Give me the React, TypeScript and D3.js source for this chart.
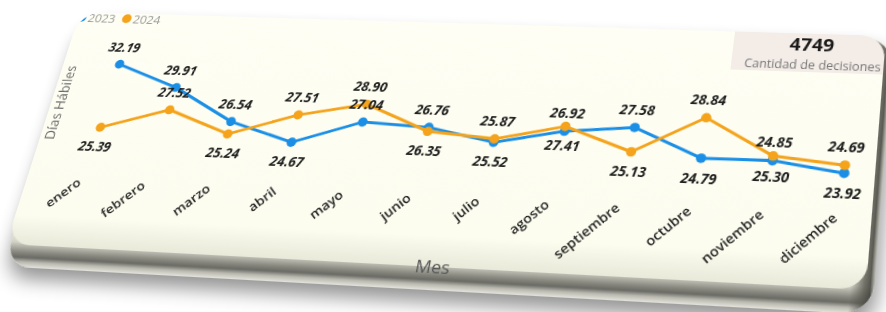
import { useEffect, useRef } from 'react';
import * as d3 from 'd3';

const MONTHS = [
  'enero',
  'febrero',
  'marzo',
  'abril',
  'mayo',
  'junio',
  'julio',
  'agosto',
  'septiembre',
  'octubre',
  'noviembre',
  'diciembre',
];

const DIAS_2023 = [32.19, 29.91, 26.54, 24.67, 27.04, 26.76, 25.52, 26.92, 27.58, 24.79, 24.85, 23.92];
const DIAS_2024 = [25.39, 27.52, 25.24, 27.51, 28.9, 26.35, 25.87, 27.41, 25.13, 28.84, 25.3, 24.69];

// where Power BI put each data label (u = above the point, d = below)
const POS_2023 = ['u', 'u', 'u', 'd', 'u', 'u', 'd', 'u', 'u', 'd', 'u', 'd'];
const POS_2024 = ['d', 'u', 'd', 'u', 'u', 'd', 'u', 'd', 'd', 'u', 'd', 'u'];

const TOTAL_DECISIONES = 4749;

const BLUE = '#1b8fe6';
const ORANGE = '#f4a31b';

// flat card size, then warped onto the tilted quad seen in the screenshot
const W = 820;
const H = 248;
const QUAD: [number, number][] = [
  [80, 12], // top left
  [886, 36], // top right
  [866, 290], // bottom right
  [6, 244], // bottom left
];

function quadMatrix(q: [number, number][]) {
  const [[x0, y0], [x1, y1], [x2, y2], [x3, y3]] = q;
  const dx1 = x1 - x2, dx2 = x3 - x2, dx3 = x0 - x1 + x2 - x3;
  const dy1 = y1 - y2, dy2 = y3 - y2, dy3 = y0 - y1 + y2 - y3;
  const den = dx1 * dy2 - dx2 * dy1;
  const g = (dx3 * dy2 - dx2 * dy3) / den;
  const h = (dx1 * dy3 - dx3 * dy1) / den;
  const a = x1 - x0 + g * x1, b = x3 - x0 + h * x3, c = x0;
  const d = y1 - y0 + g * y1, e = y3 - y0 + h * y3, f = y0;
  return `matrix3d(${a / W},${d / W},0,${g / W},${b / H},${e / H},0,${h / H},0,0,1,0,${c},${f},0,1)`;
}

const FONT = "'Open Sans', 'Noto Sans', 'DejaVu Sans', sans-serif";

function addGradient(
  defs: d3.Selection<SVGDefsElement, unknown, null, undefined>,
  id: string,
  coords: [number, number, number, number],
  stops: [number, string, number?][]
) {
  const gr = defs
    .append('linearGradient')
    .attr('id', id)
    .attr('gradientUnits', 'userSpaceOnUse')
    .attr('x1', coords[0])
    .attr('y1', coords[1])
    .attr('x2', coords[2])
    .attr('y2', coords[3]);
  stops.forEach(([o, c, op]) =>
    gr
      .append('stop')
      .attr('offset', o)
      .attr('stop-color', c)
      .attr('stop-opacity', op ?? 1)
  );
}

export default function App() {
  const svgRef = useRef<SVGSVGElement>(null);

  useEffect(() => {
    if (!svgRef.current) return;
    const svg = d3.select(svgRef.current);
    svg.selectAll('*').remove();

    const defs = svg.append('defs') as d3.Selection<SVGDefsElement, unknown, null, undefined>;
    defs
      .append('clipPath')
      .attr('id', 'card-clip')
      .append('rect')
      .attr('width', W)
      .attr('height', H)
      .attr('rx', 24);

    const shadow = defs
      .append('filter')
      .attr('id', 'card-shadow')
      .attr('x', '-5%')
      .attr('y', '-10%')
      .attr('width', '115%')
      .attr('height', '140%');
    shadow
      .append('feDropShadow')
      .attr('dx', 3)
      .attr('dy', 11)
      .attr('stdDeviation', 9)
      .attr('flood-color', '#000')
      .attr('flood-opacity', 0.42);

    addGradient(defs, 'bevel', [0, H - 16, 0, H + 22], [
      [0, '#f3f3e5'],
      [0.35, '#d2d2c6'],
      [0.6, '#8a8a82'],
      [0.74, '#6a6a64'],
      [0.86, '#b9b9b0'],
      [1, '#e4e4dc'],
    ]);
    addGradient(defs, 'bevel-side', [W - 14, 0, W + 8, 0], [
      [0, '#505048', 0],
      [0.55, '#505048', 0.75],
      [0.8, '#3f3f3a', 0.85],
      [1, '#b0b0a8', 0.6],
    ]);
    addGradient(defs, 'face', [0, 0, 0, H], [
      [0, '#fefef4'],
      [0.88, '#fcfcef'],
      [1, '#e9e9da'],
    ]);

    // card body: shaded rim behind the face
    const rim = svg.append('g').attr('filter', 'url(#card-shadow)');
    rim
      .append('rect')
      .attr('x', 4)
      .attr('y', 2)
      .attr('width', W + 3)
      .attr('height', H + 20)
      .attr('rx', 28)
      .attr('fill', 'url(#bevel)');
    rim
      .append('rect')
      .attr('x', 4)
      .attr('y', 2)
      .attr('width', W + 3)
      .attr('height', H + 20)
      .attr('rx', 28)
      .attr('fill', 'url(#bevel-side)');

    svg
      .append('rect')
      .attr('width', W)
      .attr('height', H)
      .attr('rx', 24)
      .attr('fill', 'url(#face)');

    const g = svg.append('g').attr('clip-path', 'url(#card-clip)');

    // scales
    const x = d3.scalePoint<string>().domain(MONTHS).range([60, 792]);
    const y = d3.scaleLinear().domain([20, 34]).range([179, 38.5]);

    // KPI card
    g.append('rect')
      .attr('x', 676)
      .attr('y', -2)
      .attr('width', 150)
      .attr('height', 42)
      .attr('fill', '#f3ece7');
    g.append('text')
      .attr('x', 751)
      .attr('y', 12)
      .attr('dy', '0.35em')
      .attr('text-anchor', 'middle')
      .attr('font-family', FONT)
      .attr('font-weight', 700)
      .attr('font-size', 18.5)
      .attr('fill', '#1a1a1a')
      .text(TOTAL_DECISIONES);
    g.append('text')
      .attr('x', 753)
      .attr('y', 33)
      .attr('dy', '0.35em')
      .attr('text-anchor', 'middle')
      .attr('font-family', FONT)
      .attr('font-size', 12)
      .attr('fill', '#777')
      .text('Cantidad de decisiones');

    // legend
    const legend = [
      { name: '2023', color: BLUE, x: 4 },
      { name: '2024', color: ORANGE, x: 53 },
    ];
    legend.forEach((l) => {
      g.append('circle').attr('cx', l.x).attr('cy', 6).attr('r', 5).attr('fill', l.color);
      g.append('text')
        .attr('x', l.x + 7)
        .attr('y', 6)
        .attr('dy', '0.35em')
        .attr('font-family', FONT)
        .attr('font-size', 13)
        .attr('fill', '#9a9a9a')
        .text(l.name);
    });

    // axis titles
    g.append('text')
      .attr('transform', 'translate(10,100) rotate(-90)')
      .attr('dy', '0.35em')
      .attr('text-anchor', 'middle')
      .attr('font-family', FONT)
      .attr('font-size', 14)
      .attr('fill', '#666')
      .text('Días Hábiles');

    svg
      .append('text')
      .attr('x', 424)
      .attr('y', H + 6)
      .attr('text-anchor', 'middle')
      .attr('font-family', FONT)
      .attr('font-size', 17)
      .attr('fill', '#555')
      .text('Mes');

    // month labels
    g.selectAll('text.month')
      .data(MONTHS)
      .join('text')
      .attr('class', 'month')
      .attr('transform', (d) => `translate(${(x(d) ?? 0) - 5},181) rotate(-45)`)
      .attr('dy', '0.35em')
      .attr('text-anchor', 'end')
      .attr('font-family', FONT)
      .attr('font-weight', 600)
      .attr('font-size', 13)
      .attr('fill', '#222')
      .text((d) => d);

    const series = [
      { values: DIAS_2023, pos: POS_2023, color: BLUE },
      { values: DIAS_2024, pos: POS_2024, color: ORANGE },
    ];

    const line = d3
      .line<number>()
      .x((_, i) => x(MONTHS[i]) ?? 0)
      .y((d) => y(d));

    series.forEach((s) => {
      g.append('path')
        .attr('d', line(s.values))
        .attr('fill', 'none')
        .attr('stroke', s.color)
        .attr('stroke-width', 3)
        .attr('stroke-linejoin', 'round');
      g.selectAll(null)
        .data(s.values)
        .join('circle')
        .attr('cx', (_, i) => x(MONTHS[i]) ?? 0)
        .attr('cy', (d) => y(d))
        .attr('r', 4.8)
        .attr('fill', s.color);
    });

    series.forEach((s) => {
      g.selectAll(null)
        .data(s.values)
        .join('text')
        .attr('x', (_, i) => x(MONTHS[i]) ?? 0)
        .attr('y', (d, i) => y(d) + (s.pos[i] === 'u' ? -18 : 20))
        .attr('dy', '0.35em')
        .attr('text-anchor', 'middle')
        .attr('font-family', FONT)
        .attr('font-weight', 700)
        .attr('font-style', 'italic')
        .attr('font-size', 13.5)
        .attr('fill', '#1e1e1e')
        .text((d) => d.toFixed(2));
    });
  }, []);

  return (
    <div
      style={{
        position: 'absolute',
        left: 0,
        top: 0,
        width: 886,
        height: 312,
        overflow: 'hidden',
        background: '#fff',
      }}
    >
      <div
        style={{
          position: 'absolute',
          left: 0,
          top: 0,
          width: W,
          height: H,
          transformOrigin: '0 0',
          transform: quadMatrix(QUAD),
        }}
      >
        <svg ref={svgRef} width={W} height={H + 40} style={{ display: 'block', overflow: 'visible' }} />
      </div>
    </div>
  );
}
